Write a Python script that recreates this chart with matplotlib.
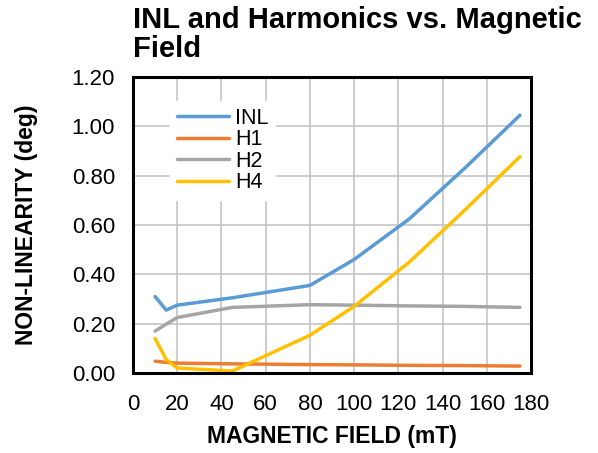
import matplotlib
matplotlib.use("Agg")
import matplotlib.pyplot as plt

plt.rcParams['font.family'] = ['Liberation Sans', 'DejaVu Sans']

field = [10, 15, 20, 45, 80, 100, 125, 150, 175]
inl = [0.31, 0.255, 0.275, 0.305, 0.355, 0.46, 0.625, 0.83, 1.045]
h1 = [0.048, 0.043, 0.040, 0.037, 0.034, 0.033, 0.031, 0.030, 0.028]
h2 = [0.170, 0.198, 0.225, 0.266, 0.277, 0.275, 0.272, 0.270, 0.266]
h4 = [0.140, 0.055, 0.020, 0.008, 0.153, 0.270, 0.450, 0.660, 0.877]

series = [("INL", inl, "#5B9BD5"), ("H1", h1, "#ED7D31"),
          ("H2", h2, "#A5A5A5"), ("H4", h4, "#FFC000")]

xticks = [0, 20, 40, 60, 80, 100, 120, 140, 160, 180]
yticks = [0.0, 0.2, 0.4, 0.6, 0.8, 1.0, 1.2]

fig = plt.figure(figsize=(5.98, 4.53), dpi=100)
ax = fig.add_axes([133/598, 1 - 373/453, (531-133)/598, (373-77)/453])

for name, vals, col in series:
    ax.plot(field, vals, color=col, lw=2.5, label=name, solid_capstyle='round')

ax.set_xlim(0, 180)
ax.set_ylim(0, 1.2)
ax.set_xticks(xticks)
ax.set_yticks(yticks)
ax.set_yticklabels([f"{v:.2f}" for v in yticks])
ax.grid(True, color="#c0c0c0", lw=1.1)
ax.set_axisbelow(True)
ax.tick_params(length=0, labelsize=16)
ax.tick_params(axis='x', pad=15)
ax.tick_params(axis='y', pad=13)
for s in ax.spines.values():
    s.set_color("black")
    s.set_linewidth(2.2)

ax.set_xlabel("MAGNETIC FIELD (mT)", fontsize=16.5, fontweight="bold", labelpad=7)
ax.set_ylabel("NON-LINEARITY (deg)", fontsize=16.5, fontweight="bold", labelpad=24)
fig.text(133/598, 1 - 6/453, "INL and Harmonics vs. Magnetic\nField", fontsize=21,
         fontweight="bold", ha="left", va="top", linespacing=1.05)

leg = ax.legend(loc="upper left", bbox_to_anchor=(0.067, 0.955), frameon=True,
                fontsize=15.5, handlelength=2.4, handletextpad=0.3, labelspacing=0.03,
                borderpad=0.3, fancybox=False)
leg.get_frame().set_edgecolor("white")
leg.get_frame().set_facecolor("white")
leg.get_frame().set_alpha(1)

fig.savefig("out.png", dpi=100)
